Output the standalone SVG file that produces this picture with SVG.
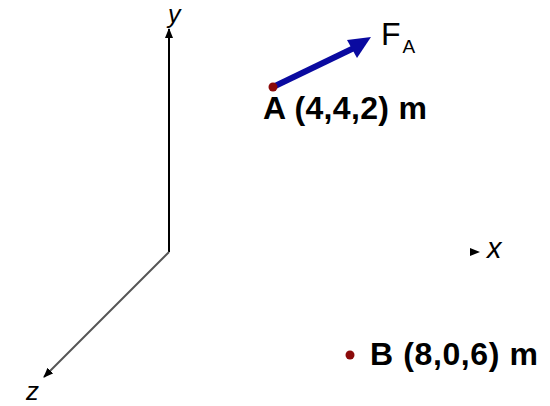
<svg xmlns="http://www.w3.org/2000/svg" width="550" height="406" viewBox="0 0 550 406">
<style>
.ax{font-family:"Liberation Sans",Arial,sans-serif;font-style:italic;fill:#000}
.lbl{font-family:"Liberation Sans",Arial,sans-serif;font-weight:bold;fill:#000}
.pt{fill:#8b0a0a}
</style>
<defs>
<marker id="ah" markerWidth="10" markerHeight="8" refX="9" refY="4" orient="auto" markerUnits="userSpaceOnUse">
<path d="M0,0 L10,4 L0,8 Z" fill="#000"/>
</marker>
</defs>
<rect width="550" height="406" fill="#fff"/>
<g id="connectors">
<line id="y-axis" x1="169" y1="252" x2="169" y2="29" stroke="#000" stroke-width="2" marker-end="url(#ah)"/>
<line id="z-axis" x1="169" y1="252" x2="44" y2="377" stroke="#555" stroke-width="2" marker-end="url(#ah)"/>
<path id="x-axis-head" d="M470,248 L480,252 L470,256 Z" fill="#000"/>
<g id="force-FA">
<line x1="273" y1="87" x2="356" y2="47" stroke="#0a0aa0" stroke-width="6"/>
<path d="M371,37 L347,40 L357,58 Z" fill="#0a0aa0"/>
</g>
</g>
<g id="axis-labels">
<text class="ax" x="168" y="23" font-size="25">y</text>
<text class="ax" x="487" y="258" font-size="29">x</text>
<text class="ax" x="26" y="400" font-size="26">z</text>
</g>
<g id="node-A">
<circle class="pt" cx="273" cy="87" r="4.5"/>
<text class="lbl" x="263" y="119" font-size="32" textLength="164" lengthAdjust="spacing">A (4,4,2) m</text>
</g>
<g id="label-FA">
<text font-family="'Liberation Sans',Arial,sans-serif" x="381" y="45" font-size="32">F<tspan font-size="19" dx="2" dy="8">A</tspan></text>
</g>
<g id="node-B">
<circle class="pt" cx="350" cy="355" r="4.5"/>
<text class="lbl" x="370" y="365" font-size="32" textLength="168" lengthAdjust="spacing">B (8,0,6) m</text>
</g>
</svg>
